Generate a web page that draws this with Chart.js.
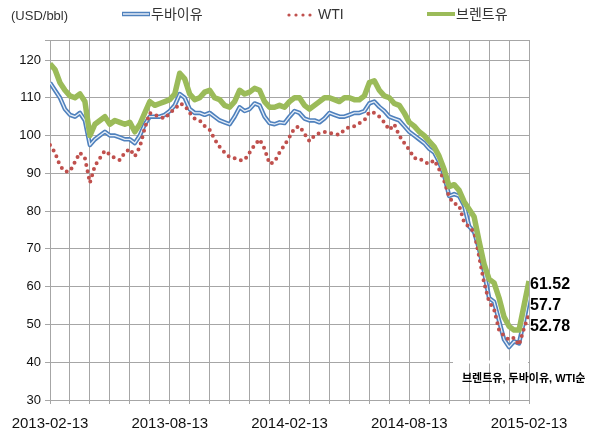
<!DOCTYPE html>
<html>
<head>
<meta charset="utf-8">
<script src="https://cdn.jsdelivr.net/npm/chart.js@4.4.0/dist/chart.umd.min.js"></script>
<style>
  html, body { margin: 0; padding: 0; background: #fff; }
  #wrap { width: 597px; height: 433px; position: relative; }
</style>
</head>
<body>
<div id="wrap"><canvas id="oilChart" width="597" height="433"></canvas></div>
<script>
// Oil prices 2013-02-13 ~ 2015-02-13, one point per quarter month (USD/bbl)
const dateLabels = ['2013-02-13', '2013-08-13', '2014-02-13', '2014-08-13', '2015-02-13'];

const brent = [
  119, 117.5, 114, 112, 110.5, 110, 111, 109, 100, 103,
  104, 105, 103, 104, 103.5, 103, 103.5, 101, 103, 106,
  109, 108, 108.5, 109, 109.5, 111, 116.5, 115, 111, 109.5,
  110, 111.5, 112, 110, 109.5, 108, 107.5, 109, 112, 111,
  111.5, 112.5, 112, 109, 107.5, 107.5, 108, 107.5, 109, 110,
  110, 108, 107, 108, 109, 110, 110, 109.5, 109, 110,
  110, 109.5, 109.5, 110.5, 114, 114.5, 112, 110.5, 110, 108.5,
  108, 106, 103.5, 102.5, 101, 100, 98.5, 97, 94.5, 91,
  86.5, 87, 85.5, 82.5, 80.5, 78.5, 72, 66, 62, 61,
  57, 52, 49.5, 48.5, 48.5, 55, 61.52
];

const dubai = [
  114, 112, 110, 107, 105.5, 105, 106, 104, 97.5, 99,
  100, 101, 100, 100, 99.5, 99, 99, 98, 100, 103,
  105, 105, 105, 105.5, 106.5, 108, 111, 110, 107, 106,
  106, 105.5, 106, 105, 104, 103.5, 103, 105, 107.5, 106.5,
  107, 108.5, 108, 105, 103.3, 103, 103.5, 103.3, 105, 106.5,
  106, 104.5, 104, 104, 103.5, 104.5, 106, 105.5, 105, 105,
  105.5, 106, 106, 106.5, 108.5, 109, 107.6, 106.5, 105, 104.5,
  104, 102.5, 101, 100, 99, 98, 96.5, 95.5, 93, 89.5,
  84, 84.5, 84, 81.5, 76, 74.5, 70, 64, 57, 56,
  51, 46, 44, 45.5, 45, 51, 57.7
];

const wti = [
  97.5, 95.5, 92, 90.5, 90.5, 93, 95.5, 94, 87.5, 92,
  94, 96, 95, 94, 93.5, 95.5, 96.5, 94.5, 97, 102,
  106, 105.5, 105, 104.5, 106, 107, 108.5, 108, 106, 104.5,
  104, 102.5, 101.5, 99, 97, 95.5, 94.3, 94, 93.5, 93.5,
  95.5, 97.5, 99, 96.5, 92.5, 93, 95.5, 97.5, 99.6, 102,
  102.5, 100.5, 98.5, 100, 100.7, 101, 100.7, 100.5, 100.2, 101.5,
  102.3, 102.5, 103.3, 104, 106.2, 106, 105, 103.5, 101.5, 103,
  100, 98, 96.2, 94, 94, 93, 92.5, 93.5, 91, 88,
  83.7, 82, 81.5, 77, 75.8, 74.5, 68, 61, 56, 54,
  48.5, 47, 45.9, 46.5, 44.5, 49, 52.78
];

const seriesNames = ['두바이유', 'WTI', '브렌트유'];
const orderNote = '브렌트유, 두바이유, WTI순';
const unitLabel = '(USD/bbl)';

const blue = '#4F81BD';
const blueInner = '#e6eef8';
const red = '#C0504D';
const green = '#9BBB59';
const gridGray = '#a6a6a6';
const krFont = '"Liberation Sans", "Noto Sans CJK KR", sans-serif';

const pointIndex = brent.map((v, i) => i);

const textPlugin = {
    id: 'oilText',
    beforeDatasetsDraw(chart) {
        // gap in the 40 gridline behind the note text
        const ctx = chart.ctx;
        const y40 = chart.scales.y.getPixelForValue(40);
        ctx.save();
        ctx.fillStyle = '#fff';
        ctx.fillRect(453, Math.round(y40) - 1.5, chart.chartArea.right - 454, 3);
        ctx.restore();
    },
    afterDraw(chart) {
        const ctx = chart.ctx;
        ctx.save();
        ctx.textBaseline = 'middle';
        ctx.textAlign = 'left';

        // unit label
        ctx.fillStyle = '#333';
        ctx.font = '13px ' + krFont;
        ctx.fillText(unitLabel, 11, 16);

        // legend: 두바이유 (double line)
        ctx.lineCap = 'butt';
        ctx.strokeStyle = blue;
        ctx.lineWidth = 4.5;
        ctx.beginPath(); ctx.moveTo(122, 14); ctx.lineTo(150, 14); ctx.stroke();
        ctx.strokeStyle = blueInner;
        ctx.lineWidth = 1.5;
        ctx.beginPath(); ctx.moveTo(123, 14); ctx.lineTo(149, 14); ctx.stroke();
        ctx.fillStyle = '#333';
        ctx.font = '14px ' + krFont;
        ctx.fillText(seriesNames[0], 151, 15);

        // legend: WTI (dots)
        ctx.fillStyle = red;
        [289, 296, 303, 310].forEach(x => {
            ctx.beginPath(); ctx.arc(x, 15, 1.6, 0, Math.PI * 2); ctx.fill();
        });
        ctx.fillStyle = '#333';
        ctx.fillText(seriesNames[1], 318, 15);

        // legend: 브렌트유 (thick line)
        ctx.strokeStyle = green;
        ctx.lineWidth = 4;
        ctx.beginPath(); ctx.moveTo(427, 14); ctx.lineTo(455, 14); ctx.stroke();
        ctx.fillText(seriesNames[2], 456, 15);

        // end values
        ctx.fillStyle = '#000';
        ctx.font = 'bold 16px "Liberation Sans", sans-serif';
        const x0 = chart.chartArea.right + 1;
        ctx.fillText(String(brent[brent.length - 1]), x0, 285);
        ctx.fillText(String(dubai[dubai.length - 1]), x0, 306);
        ctx.fillText(String(wti[wti.length - 1]), x0, 327);

        // order note
        ctx.font = 'bold 11px ' + krFont;
        ctx.fillText(orderNote, 462, 379);
        ctx.restore();
    }
};

const ctx = document.getElementById('oilChart').getContext('2d');
new Chart(ctx, {
    type: 'line',
    data: {
        labels: pointIndex,
        datasets: [
            {
                label: seriesNames[2],
                data: brent,
                borderColor: green,
                borderWidth: 5.5,
                order: 0
            },
            {
                label: seriesNames[1],
                data: wti,
                borderColor: red,
                borderWidth: 4,
                borderCapStyle: 'round',
                borderDash: [0, 6.5],
                order: 1
            },
            {
                label: seriesNames[0] + ' inner',
                data: dubai,
                borderColor: blueInner,
                borderWidth: 1.3,
                order: 2
            },
            {
                label: seriesNames[0],
                data: dubai,
                borderColor: blue,
                borderWidth: 4.5,
                order: 3
            }
        ]
    },
    options: {
        responsive: false,
        animation: false,
        events: [],
        elements: {
            point: { radius: 0 },
            line: { tension: 0, fill: false, borderJoinStyle: 'round' }
        },
        layout: { padding: { top: 40, right: 68, left: 0, bottom: 0 } },
        plugins: {
            legend: { display: false },
            tooltip: { enabled: false }
        },
        scales: {
            x: {
                type: 'linear',
                min: 0,
                max: 96,
                afterFit: scale => { scale.height = 33; },
                grid: { color: gridGray, lineWidth: 1, tickLength: 4, tickColor: gridGray },
                border: { color: gridGray },
                ticks: {
                    stepSize: 4,
                    autoSkip: false,
                    maxRotation: 0,
                    padding: 11,
                    color: '#111',
                    font: { family: '"Liberation Sans", sans-serif', size: 15 },
                    callback: value => (value % 24 === 0 ? dateLabels[value / 24] : '')
                }
            },
            y: {
                min: 30,
                max: 125.3,
                afterFit: scale => { scale.width = 50; },
                grid: { color: gridGray, lineWidth: 1, tickLength: 5, tickColor: gridGray },
                border: { color: gridGray },
                ticks: {
                    stepSize: 10,
                    padding: 4,
                    color: '#111',
                    font: { family: '"Liberation Sans", sans-serif', size: 13 },
                    callback: value => (value % 10 === 0 ? value : '')
                }
            }
        }
    },
    plugins: [textPlugin]
});
</script>
</body>
</html>
